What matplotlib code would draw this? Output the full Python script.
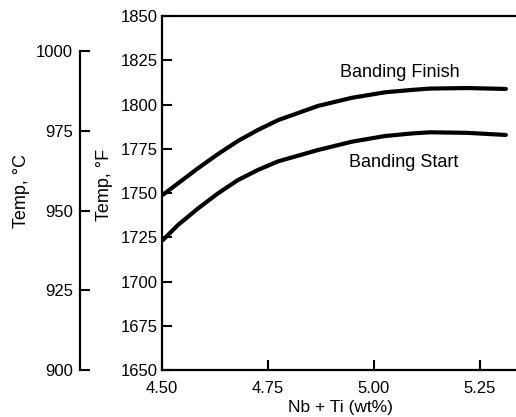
import numpy as np
import matplotlib
matplotlib.use("Agg")
import matplotlib.pyplot as plt

plt.rcParams["font.family"] = ["Liberation Sans", "DejaVu Sans"]

# Nb + Ti content (wt%) and banding temperatures (deg F)
nb_ti = [4.502, 4.538, 4.585, 4.632, 4.679, 4.726, 4.774,
         4.868, 4.948, 5.026, 5.092, 5.132, 5.219, 5.311]
finish_f = [1749, 1755.5, 1764, 1772, 1779.4, 1785.6, 1791.2,
            1799.2, 1803.8, 1806.9, 1808.3, 1809.0, 1809.3, 1808.8]
start_f = [1723.4, 1732, 1741.3, 1749.8, 1757.3, 1763, 1767.9,
           1774.3, 1779.0, 1782.2, 1783.7, 1784.3, 1784.0, 1782.8]

x_ticks = [4.50, 4.75, 5.00, 5.25]
f_ticks = [1650, 1675, 1700, 1725, 1750, 1775, 1800, 1825, 1850]
c_ticks = [900, 925, 950, 975, 1000]

fig = plt.figure(figsize=(5.16, 4.17), dpi=100)
ax = fig.add_axes([0.314, 0.1127, 0.686, 0.8489])

ax.plot(nb_ti, finish_f, color="black", lw=3.0, solid_capstyle="round",
        solid_joinstyle="round")
ax.plot(nb_ti, start_f, color="black", lw=3.0, solid_capstyle="round",
        solid_joinstyle="round")

ax.text(5.06, 1818, "Banding Finish", ha="center", va="center", fontsize=13)
ax.text(5.07, 1767, "Banding Start", ha="center", va="center", fontsize=13)

ax.set_xlim(4.5, 5.335)
ax.set_ylim(1650, 1850)
ax.set_xticks(x_ticks)
ax.set_xticklabels(["%.2f" % t for t in x_ticks])
ax.set_yticks(f_ticks)
ax.spines["right"].set_visible(False)
for s in ["left", "bottom", "top"]:
    ax.spines[s].set_linewidth(1.6)
ax.tick_params(direction="in", length=7, width=1.5, labelsize=12)
ax.tick_params(axis="x", pad=8)
ax.tick_params(axis="y", pad=3)
ax.set_xlabel("Nb + Ti (wt%)", fontsize=12.5, va="center")
ax.xaxis.set_label_coords(0.503, -0.105)

# separate Celsius scale on the far left
axc = fig.add_axes([0.155, 0.1127, 0.0001, 0.8489])
axc.set_ylim(900, 900 + 200 / 1.8)
axc.set_yticks(c_ticks)
axc.set_xticks([])
for s in ["right", "top", "bottom"]:
    axc.spines[s].set_visible(False)
axc.spines["left"].set_linewidth(1.6)
axc.spines["left"].set_bounds(900, 1000)
axc.tick_params(axis="y", direction="in", length=7, width=1.5, pad=5, labelsize=12)

fig.text(0.203, 0.556, "Temp, °F", rotation=90, ha="center", va="center", fontsize=13)
fig.text(0.042, 0.542, "Temp, °C", rotation=90, ha="center", va="center", fontsize=13)

fig.savefig("out.png", dpi=100)
